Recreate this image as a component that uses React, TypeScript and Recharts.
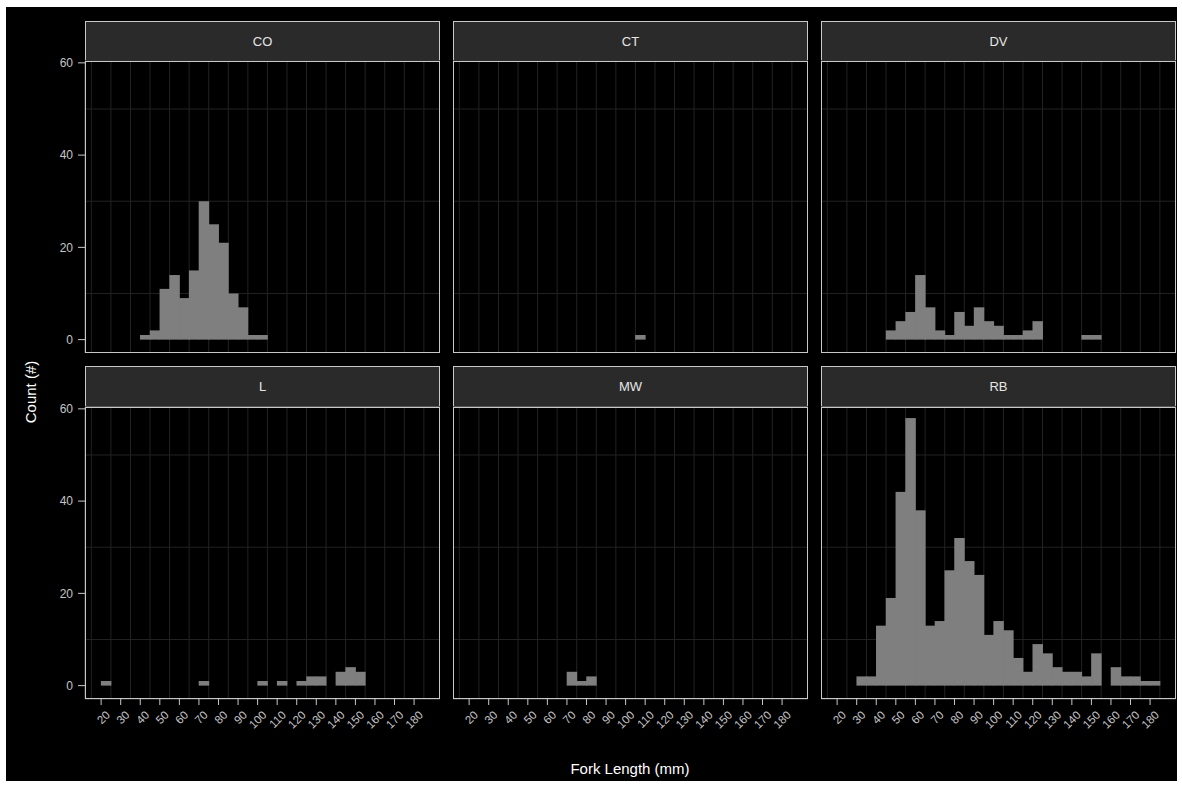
import React from "react";
import { BarChart, Bar, XAxis, YAxis, CartesianGrid } from "recharts";

// ---------- data ----------
const BINS = [20, 25, 30, 35, 40, 45, 50, 55, 60, 65, 70, 75, 80, 85, 90, 95, 100, 105, 110, 115, 120, 125, 130, 135, 140, 145, 150, 155, 160, 165, 170, 175, 180];
const SPECIES = ["CO", "CT", "DV", "L", "MW", "RB"];
const CO_COUNTS = [0, 0, 0, 0, 1, 2, 11, 14, 9, 15, 30, 25, 21, 10, 7, 1, 1, 0, 0, 0, 0, 0, 0, 0, 0, 0, 0, 0, 0, 0, 0, 0, 0];
const CT_COUNTS = [0, 0, 0, 0, 0, 0, 0, 0, 0, 0, 0, 0, 0, 0, 0, 0, 0, 1, 0, 0, 0, 0, 0, 0, 0, 0, 0, 0, 0, 0, 0, 0, 0];
const DV_COUNTS = [0, 0, 0, 0, 0, 2, 4, 6, 14, 7, 2, 1, 6, 3, 7, 4, 3, 1, 1, 2, 4, 0, 0, 0, 0, 1, 1, 0, 0, 0, 0, 0, 0];
const L_COUNTS = [1, 0, 0, 0, 0, 0, 0, 0, 0, 0, 1, 0, 0, 0, 0, 0, 1, 0, 1, 0, 1, 2, 2, 0, 3, 4, 3, 0, 0, 0, 0, 0, 0];
const MW_COUNTS = [0, 0, 0, 0, 0, 0, 0, 0, 0, 0, 3, 1, 2, 0, 0, 0, 0, 0, 0, 0, 0, 0, 0, 0, 0, 0, 0, 0, 0, 0, 0, 0, 0];
const RB_COUNTS = [0, 0, 2, 2, 13, 19, 42, 58, 38, 13, 14, 25, 32, 27, 24, 11, 14, 12, 6, 3, 9, 7, 4, 3, 3, 2, 7, 0, 4, 2, 2, 1, 1];
const COUNTS = [CO_COUNTS, CT_COUNTS, DV_COUNTS, L_COUNTS, MW_COUNTS, RB_COUNTS];

const X_TICKS = [20, 30, 40, 50, 60, 70, 80, 90, 100, 110, 120, 130, 140, 150, 160, 170, 180];
const X_MINOR = [15, 25, 35, 45, 55, 65, 75, 85, 95, 105, 115, 125, 135, 145, 155, 165, 175, 185];
const Y_TICKS = [0, 20, 40, 60];
const Y_MINOR = [10, 30, 50];
const BIN_WIDTH = 5;

// ---------- layout / style ----------
const FONT = "'Liberation Sans', Arial, sans-serif";
const PLOT_LEFTS = [85, 453, 821];
const PLOT_W = 355;
const STRIP_TOPS = [21, 366];
const STRIP_H = 41;
const PLOT_TOPS = [61, 407];
const PLOT_H = 292;
const YW = 60;
const XH = 70;
const TOP_PAD = 12;
const X_DOMAIN: [number, number] = [11.75, 193.25];
const Y_DOMAIN: [number, number] = [-2.9, 60.4];
const BAR_FILL = "#7f7f7f";
const MAJOR_GRID = "#363636";
const MINOR_GRID = "#222222";
const BORDER = "#c8c8c8";
const TICK_TEXT = "#c4c4c4";
// pixel width of one 5 mm bin (a size, derived from the layout)
const BIN_PX = (PLOT_W * BIN_WIDTH) / (X_DOMAIN[1] - X_DOMAIN[0]);

const XTick = (props: any) => {
  const { x, y, payload } = props;
  return (
    <g transform={`translate(${x + 4},${y + 3})`}>
      <text x={0} y={0} dy="0.7em" textAnchor="end" transform="rotate(-45)" fill={TICK_TEXT} fontSize={11.5} fontFamily={FONT}>
        {payload.value}
      </text>
    </g>
  );
};

// histogram bin: centred on the library's bar position, widened to the full bin so neighbours touch
const BinShape = (p: any) => {
  if (!p.height || p.height <= 0) return <g />;
  const cx = p.x + p.width / 2;
  return <rect x={cx - BIN_PX / 2 - 0.35} y={p.y} width={BIN_PX + 0.7} height={p.height} fill={BAR_FILL} />;
};

const PanelChart = ({ idx, layer }: { idx: number; layer: "grid" | "bars" }) => {
  const col = idx % 3;
  const row = Math.floor(idx / 3);
  const showY = col === 0;
  const showX = row === 1;
  const w = PLOT_W + (showY ? YW : 0);
  const h = PLOT_H + TOP_PAD + (showX ? XH : 0);
  const data = BINS.map((b, i) => ({ bin: b + BIN_WIDTH / 2, count: COUNTS[idx][i] }));
  const isBars = layer === "bars";
  return (
    <div style={{ position: "absolute", left: PLOT_LEFTS[col] - (showY ? YW : 0), top: PLOT_TOPS[row] - TOP_PAD }}>
      <BarChart width={w} height={h} data={data} margin={{ top: TOP_PAD, right: 0, bottom: 0, left: 0 }}>
        {!isBars && <CartesianGrid xAxisId="minor" yAxisId="minor" stroke={MINOR_GRID} strokeDasharray="" />}
        {!isBars && <CartesianGrid stroke={MAJOR_GRID} strokeDasharray="" />}
        <XAxis
          type="number"
          dataKey="bin"
          domain={X_DOMAIN}
          allowDataOverflow
          ticks={X_TICKS}
          interval={0}
          hide={!showX}
          height={XH}
          axisLine={false}
          tickLine={isBars ? { stroke: BORDER } : false}
          tickSize={6}
          tick={isBars ? <XTick /> : false}
        />
        <XAxis xAxisId="minor" type="number" dataKey="bin" domain={X_DOMAIN} allowDataOverflow ticks={X_MINOR} interval={0} hide />
        <YAxis
          type="number"
          domain={Y_DOMAIN}
          allowDataOverflow
          ticks={Y_TICKS}
          interval={0}
          hide={!showY}
          width={YW}
          axisLine={false}
          tickLine={isBars ? { stroke: BORDER } : false}
          tickSize={7}
          tickMargin={5}
          tick={isBars ? { fill: TICK_TEXT, fontSize: 12, fontFamily: FONT } : false}
        />
        <YAxis yAxisId="minor" type="number" domain={Y_DOMAIN} allowDataOverflow ticks={Y_MINOR} interval={0} hide />
        {isBars && (
          <Bar dataKey="count" fill={BAR_FILL} barSize={8} shape={<BinShape />} isAnimationActive={false} />
        )}
      </BarChart>
    </div>
  );
};

const Panel = ({ idx }: { idx: number }) => {
  const col = idx % 3;
  const row = Math.floor(idx / 3);
  return (
    <>
      <div
        style={{
          position: "absolute",
          left: PLOT_LEFTS[col],
          top: STRIP_TOPS[row],
          width: PLOT_W,
          height: STRIP_H,
          boxSizing: "border-box",
          border: `1px solid ${BORDER}`,
          background: "#2a2a2a",
          color: "#e6e6e6",
          fontFamily: FONT,
          fontSize: 13,
          display: "flex",
          alignItems: "center",
          justifyContent: "center",
        }}
      >
        {SPECIES[idx]}
      </div>
      <PanelChart idx={idx} layer="grid" />
      <PanelChart idx={idx} layer="bars" />
      <div
        style={{
          position: "absolute",
          left: PLOT_LEFTS[col],
          top: PLOT_TOPS[row],
          width: PLOT_W,
          height: PLOT_H,
          boxSizing: "border-box",
          border: `1px solid ${BORDER}`,
          pointerEvents: "none",
        }}
      />
    </>
  );
};

export default function App() {
  return (
    <div style={{ position: "absolute", left: 0, top: 0, width: 1182, height: 788, background: "#ffffff", overflow: "hidden" }}>
      <div style={{ position: "absolute", left: 6, top: 7, width: 1171, height: 774, background: "#000000" }} />
      {SPECIES.map((s, i) => (
        <Panel key={s} idx={i} />
      ))}
      <div
        style={{
          position: "absolute",
          left: 30,
          top: 392,
          transform: "translate(-50%, -50%) rotate(-90deg)",
          whiteSpace: "nowrap",
          color: "#ffffff",
          fontFamily: FONT,
          fontSize: 15,
        }}
      >
        Count (#)
      </div>
      <div
        style={{
          position: "absolute",
          left: 630,
          top: 768,
          transform: "translate(-50%, -50%)",
          whiteSpace: "nowrap",
          color: "#ffffff",
          fontFamily: FONT,
          fontSize: 15,
        }}
      >
        Fork Length (mm)
      </div>
    </div>
  );
}
